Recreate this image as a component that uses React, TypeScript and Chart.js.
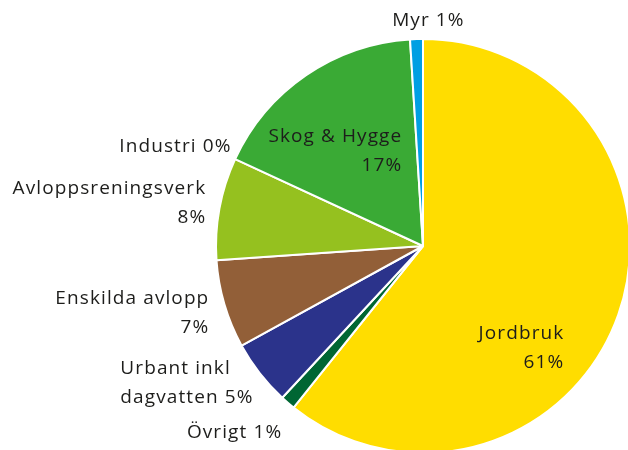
import React, { useEffect, useRef } from "react";
import { Chart, registerables } from "chart.js";

Chart.register(...registerables);

const categories = [
  "Jordbruk",
  "Övrigt",
  "Urbant inkl dagvatten",
  "Enskilda avlopp",
  "Avloppsreningsverk",
  "Industri",
  "Skog & Hygge",
  "Myr",
];
const values = [60.75, 1.15, 5.1, 6.9, 8.0, 0, 17.1, 1.0];
const percentLabels = ["61%", "1%", "5%", "7%", "8%", "0%", "17%", "1%"];
const colors = [
  "#FFDD00",
  "#006633",
  "#2B338B",
  "#925F38",
  "#95C11F",
  "#3AAA35",
  "#3AAA35",
  "#009FE3",
];

// label layout: text lines ({name} / {pct} placeholders), anchor offset in units of radius, alignment
const labelLayout = [
  { lines: ["{name}", "{pct}"], ax: 0.678, ay: 0.415, align: "right" },
  { lines: ["{name} {pct}"], ax: -0.685, ay: 0.892, align: "right" },
  { lines: ["Urbant inkl", "dagvatten {pct}"], ax: -1.462, ay: 0.585, align: "left" },
  { lines: ["{name}", "{pct}"], ax: -1.037, ay: 0.248, align: "right" },
  { lines: ["{name}", "{pct}"], ax: -1.052, ay: -0.283, align: "right" },
  { lines: ["{name} {pct}"], ax: -0.930, ay: -0.490, align: "right" },
  { lines: ["{name}", "{pct}"], ax: -0.105, ay: -0.536, align: "right" },
  { lines: ["{name} {pct}"], ax: 0.026, ay: -1.097, align: "center" },
];

const FONT = '19px "Open Sans", sans-serif';
const LINE_H = 29;

const labelPlugin = {
  id: "outerLabels",
  afterDraw(chart: any) {
    const meta = chart.getDatasetMeta(0);
    const arc0 = meta.data[0];
    if (!arc0) return;
    const cx = arc0.x;
    const cy = arc0.y;
    const R = arc0.outerRadius;
    const ctx = chart.ctx;
    ctx.save();
    ctx.font = FONT;
    (ctx as any).letterSpacing = "1.1px";
    ctx.fillStyle = "#1d1d1b";
    ctx.textBaseline = "alphabetic";
    labelLayout.forEach((l, i) => {
      const x = cx + l.ax * R + (l.align === "right" ? 1 : 0);
      const y = cy + l.ay * R;
      ctx.textAlign = l.align;
      l.lines.forEach((line, j) => {
        const text = line
          .replace("{name}", categories[i])
          .replace("{pct}", percentLabels[i]);
        ctx.fillText(text, x, y + 7 + j * LINE_H);
      });
    });
    ctx.restore();
  },
};

export default function App() {
  const ref = useRef<HTMLCanvasElement>(null);
  useEffect(() => {
    if (!ref.current) return;
    const chart = new Chart(ref.current, {
      type: "pie",
      data: {
        labels: categories,
        datasets: [
          {
            data: values,
            backgroundColor: colors,
            borderColor: "#ffffff",
            borderWidth: 2,
          },
        ],
      },
      options: {
        responsive: false,
        animation: false,
        layout: { padding: { left: 215, top: 38, right: 9, bottom: 6 } },
        plugins: {
          legend: { display: false },
          tooltip: { enabled: false },
        },
      },
      plugins: [labelPlugin],
    });
    return () => chart.destroy();
  }, []);
  return (
    <div style={{ position: "fixed", left: 0, top: 0, width: 640, height: 460, background: "#fff" }}>
      <canvas ref={ref} width={640} height={460} style={{ width: 640, height: 460 }} />
    </div>
  );
}
